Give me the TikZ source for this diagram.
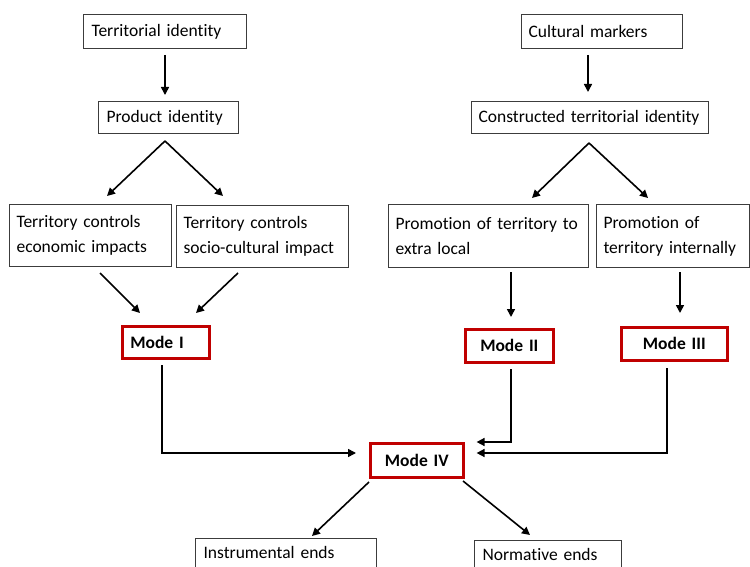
\documentclass[tikz,border=0pt]{standalone}
\usepackage{fontspec}
\setmainfont{Carlito}[Ligatures=NoCommon]
\usetikzlibrary{arrows.meta}
\definecolor{boxgray}{HTML}{3C3C3C}
\definecolor{modered}{HTML}{C00000}
\tikzset{
  box/.style={draw=boxgray, line width=1.1pt, anchor=north west, align=left,
    inner xsep=8pt, inner ysep=0pt, font=\fontsize{17.5}{25}\selectfont},
  modebox/.style={draw=modered, line width=2.6pt, anchor=north west,
    inner xsep=8pt, inner ysep=0pt, font=\fontsize{17.5}{25}\selectfont\bfseries},
  arr/.style={line width=1.6pt, -{Triangle[length=8pt,width=8pt]}},
}
\begin{document}
\begin{tikzpicture}[x=1pt,y=-1pt]
\useasboundingbox (0,0) rectangle (750,567);
\clip (0,0) rectangle (750,567);
\fill[white] (0,0) rectangle (750,567);

% left branch
\node[box, minimum width=163pt, minimum height=34pt, text width=147pt] (ti) at (83,14) {\mbox{Territorial identity}};
\node[box, minimum width=140pt, minimum height=32pt, text width=124pt] (pi) at (98,101) {\mbox{Product identity}};
\node[box, minimum width=162pt, minimum height=62pt, text width=148pt, inner xsep=7pt] (tce) at (9,204) {\mbox{Territory controls}\\\mbox{economic impacts}};
\node[box, minimum width=172pt, minimum height=62pt, text width=158pt, inner xsep=7pt] (tcs) at (176,205) {\mbox{Territory controls}\\\mbox{socio-cultural impact}};

% right branch
\node[box, minimum width=161pt, minimum height=34pt, text width=147pt, inner xsep=7pt] (cm) at (521,14) {\mbox{Cultural markers}};
\node[box, minimum width=237pt, minimum height=32pt, text width=223pt, inner xsep=7pt] (cti) at (471,101) {\mbox{Constructed territorial identity}};
\node[box, minimum width=200pt, minimum height=63pt, text width=186pt, inner xsep=7pt] (pel) at (388,204) {\mbox{Promotion of territory to}\\\mbox{extra local}};
\node[box, minimum width=153pt, minimum height=63pt, text width=139pt, inner xsep=7pt] (pin) at (596,204) {\mbox{Promotion of}\\\mbox{territory internally}};

% modes
\node[modebox, minimum width=87pt, minimum height=32pt, text width=71pt, align=left] (m1) at (121,325) {Mode I};
\node[modebox, minimum width=88pt, minimum height=33pt, text width=72pt, align=center] (m2) at (464,328) {Mode II};
\node[modebox, minimum width=106pt, minimum height=33pt, text width=90pt, align=center] (m3) at (620,326) {Mode III};
\node[modebox, minimum width=93pt, minimum height=34pt, text width=77pt, align=center] (m4) at (369,442) {Mode IV};

% ends (continue below the lower edge)
\node[box, minimum width=181pt, minimum height=34pt, text width=165pt] (ie) at (195,538) {\raisebox{7pt}{Instrumental ends}};
\node[box, minimum width=147pt, minimum height=34pt, text width=131pt] (ne) at (474,540) {\raisebox{7pt}{Normative ends}};

% branching points and free ends
\coordinate (pa) at (165,141);
\coordinate (pl) at (107,196);
\coordinate (pr) at (223,196);
\coordinate (ca) at (589,143);
\coordinate (cl) at (532,198);
\coordinate (cr) at (648,198);

% connectors, left branch
\draw[arr, shorten <=7pt, shorten >=6pt] (165,48) coordinate (tis) -- (tis |- pi.north);
\draw[arr] (pa) -- (pl);
\draw[arr] (pa) -- (pr);
\draw[arr] (100,273) coordinate (l1) -- (140,313) coordinate (l1e);
\draw[arr] (238,273) coordinate (l2) -- (196,313) coordinate (l2e);

% connectors, right branch
\draw[arr, shorten <=7pt, shorten >=9pt] (588,48) coordinate (cms) -- (cms |- cti.north);
\draw[arr] (ca) -- (cl);
\draw[arr] (ca) -- (cr);
\draw[arr, shorten <=5pt, shorten >=11pt] (511,267) coordinate (pels) -- (pels |- m2.north);
\draw[arr, shorten <=5pt, shorten >=13pt] (680,267) coordinate (pins) -- (pins |- m3.north);

% into Mode IV
\draw[arr, shorten <=8pt, shorten >=13pt] (162,357) coordinate (m1s) |- (m4.west |- 0,453);
\draw[arr, shorten <=8pt, shorten >=12pt] (511,361) coordinate (m2s) |- (m4.east |- 0,442);
\draw[arr, shorten <=9pt, shorten >=12pt] (667,359) coordinate (m3s) |- (m4.east |- 0,453);

% out of Mode IV
\draw[arr] (369,482) coordinate (m4l) -- (312,536) coordinate (iet);
\draw[arr] (463,481) coordinate (m4r) -- (530,535) coordinate (net);
\end{tikzpicture}
\end{document}
